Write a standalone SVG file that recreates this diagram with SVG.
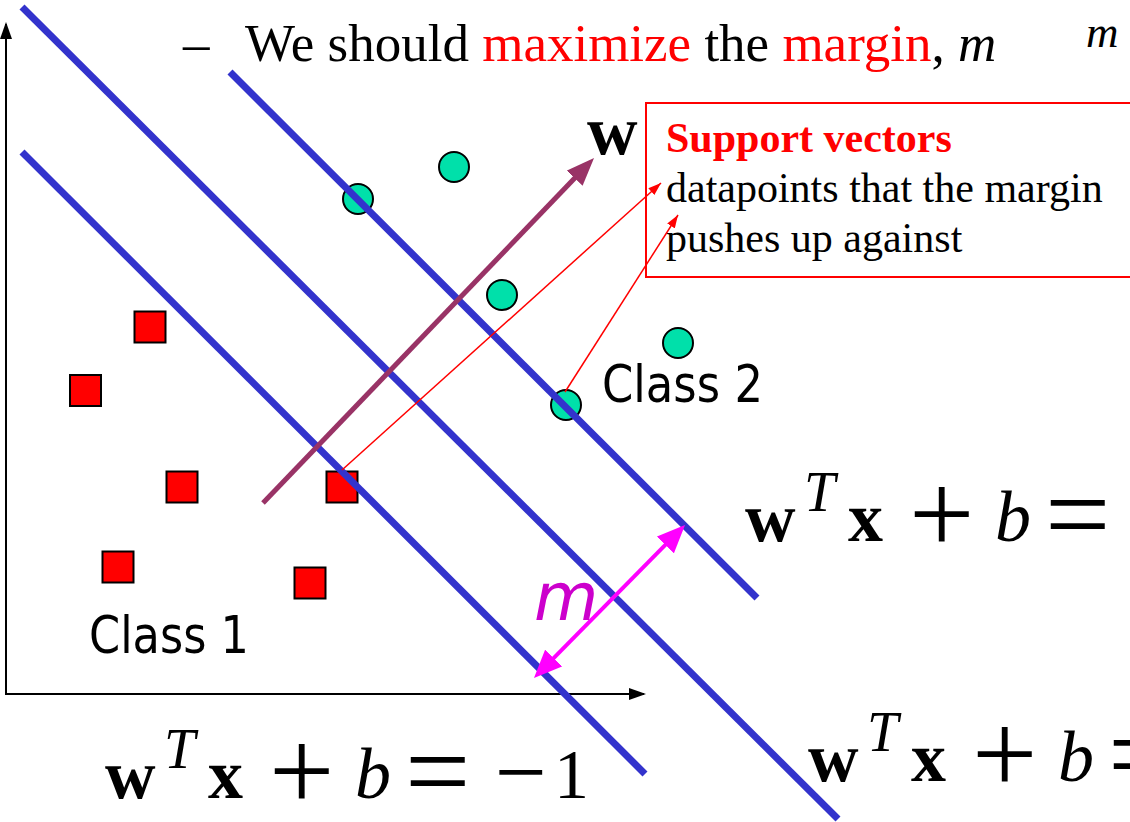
<svg xmlns="http://www.w3.org/2000/svg" width="1130" height="822" viewBox="0 0 1130 822">
<style>
.axis{stroke:#000;stroke-width:2;fill:none}
.blue{stroke:#3333CC;stroke-width:7;fill:none}
.c2{fill:#00E0AA;stroke:#000;stroke-width:2}
.c1{fill:#FF0000;stroke:#000;stroke-width:2}
.wvec{stroke:#993366;stroke-width:5;fill:none}
.sv{stroke:#FF0000;stroke-width:1.5;fill:none}
.marg{stroke:#FF00FF;stroke-width:4;fill:none}
.serif{font-family:"Liberation Serif","Times New Roman",serif}
.sans{font-family:"DejaVu Sans",Verdana,sans-serif}
.mb{font-family:"Liberation Serif","Times New Roman",serif;font-weight:bold;font-size:70px}
.mi{font-family:"Liberation Serif","Times New Roman",serif;font-style:italic}
.mr{font-family:"Liberation Serif","Times New Roman",serif}
.red{fill:#FF0000}
</style>
<defs>
<marker id="axhead" markerUnits="userSpaceOnUse" viewBox="0 0 17 12" markerWidth="17" markerHeight="12" refX="15" refY="6" orient="auto"><path d="M0,0 L17,6 L0,12 Z" fill="#000"/></marker>
<marker id="whead" markerUnits="userSpaceOnUse" viewBox="0 0 28 22" markerWidth="28" markerHeight="22" refX="20" refY="11" orient="auto"><path d="M0,0 L28,11 L0,22 Z" fill="#993366"/></marker>
<marker id="svhead" markerUnits="userSpaceOnUse" viewBox="0 0 13 9" markerWidth="13" markerHeight="9" refX="13" refY="4.5" orient="auto"><path d="M0,0 L13,4.5 L0,9 Z" fill="#FF0000"/></marker>
<marker id="mhead" markerUnits="userSpaceOnUse" viewBox="0 0 28 24" markerWidth="28" markerHeight="24" refX="20" refY="12" orient="auto-start-reverse"><path d="M0,0 L28,12 L0,24 Z" fill="#FF00FF"/></marker>
<g id="wtxb">
<text class="mb" x="0" y="0">w</text>
<text class="mi" x="59" y="-30" font-size="56">T</text>
<text class="mb" x="103" y="0" font-size="74">x</text>
<text class="mr" x="164" y="12" font-size="116">+</text>
<text class="mi" x="250" y="0" font-size="72">b</text>
<text class="mr" x="300" y="12" font-size="116">=</text>
</g>
</defs>

<g id="axes">
<line class="axis" x1="6" y1="694" x2="6" y2="24" marker-end="url(#axhead)"/>
<line class="axis" x1="5" y1="694" x2="644" y2="694" marker-end="url(#axhead)"/>
</g>

<g id="class1-points">
<rect class="c1" x="134.5" y="311.5" width="31" height="31"/>
<rect class="c1" x="70" y="375" width="31" height="31"/>
<rect class="c1" x="166.5" y="471.5" width="31" height="31"/>
<rect class="c1" x="326.5" y="471.5" width="31" height="31"/>
<rect class="c1" x="102.5" y="551.5" width="31" height="31"/>
<rect class="c1" x="294.5" y="567.5" width="31" height="31"/>
</g>

<g id="class2-points">
<circle class="c2" cx="358" cy="199" r="15"/>
<circle class="c2" cx="454" cy="167" r="15"/>
<circle class="c2" cx="502" cy="295" r="15"/>
<circle class="c2" cx="678" cy="343" r="15"/>
<circle class="c2" cx="566" cy="405" r="15"/>
</g>

<g id="hyperplanes">
<line id="plane-minus" class="blue" x1="22" y1="152" x2="645" y2="774"/>
<line id="plane-zero" class="blue" x1="22" y1="7" x2="838" y2="819"/>
<line id="plane-plus" class="blue" x1="230" y1="72" x2="757" y2="598"/>
</g>

<g id="connectors">
<line id="w-vector" class="wvec" x1="263" y1="503" x2="588.5" y2="163.8" marker-end="url(#whead)"/>
<line class="sv" x1="342" y1="470" x2="661" y2="183" marker-end="url(#svhead)"/>
<line class="sv" x1="565" y1="392" x2="678" y2="215" marker-end="url(#svhead)"/>
<line id="margin-arrow" class="marg" x1="539.6" y1="672.3" x2="679.4" y2="530.7" marker-start="url(#mhead)" marker-end="url(#mhead)"/>
</g>

<g id="title">
<text class="serif" x="183" y="61" font-size="53">–</text>
<text class="serif" x="245" y="61" font-size="53">We should <tspan class="red">maximize</tspan> the <tspan class="red">margin</tspan>, <tspan font-style="italic">m</tspan></text>
<text class="serif" x="1086" y="47" font-size="45" font-style="italic">m</text>
</g>

<g id="w-label">
<text class="mb" x="587" y="154">w</text>
</g>

<g id="support-vectors-box">
<rect x="646" y="103" width="500" height="174" fill="none" stroke="#FF0000" stroke-width="2"/>
<text class="serif red" x="666" y="152" font-size="42" font-weight="bold">Support vectors</text>
<text class="serif" x="666" y="202" font-size="42">datapoints that the margin</text>
<text class="serif" x="666" y="252" font-size="42">pushes up against</text>
</g>

<g id="class-labels">
<text class="sans" x="602" y="402" font-size="52" textLength="161" lengthAdjust="spacingAndGlyphs">Class 2</text>
<text class="sans" x="89" y="653" font-size="52" textLength="160" lengthAdjust="spacingAndGlyphs">Class 1</text>
</g>

<g id="margin-label">
<text class="sans" x="534" y="620" font-size="66" font-style="italic" fill="#CC00CC">m</text>
</g>

<g id="eq-plus">
<use href="#wtxb" x="745" y="541"/>
</g>
<g id="eq-zero">
<use href="#wtxb" x="808" y="781"/>
</g>
<g id="eq-minus">
<use href="#wtxb" x="105" y="798"/>
<text class="mr" x="495" y="803" font-size="92">−</text>
<text class="mr" x="554" y="798" font-size="70">1</text>
</g>
</svg>
